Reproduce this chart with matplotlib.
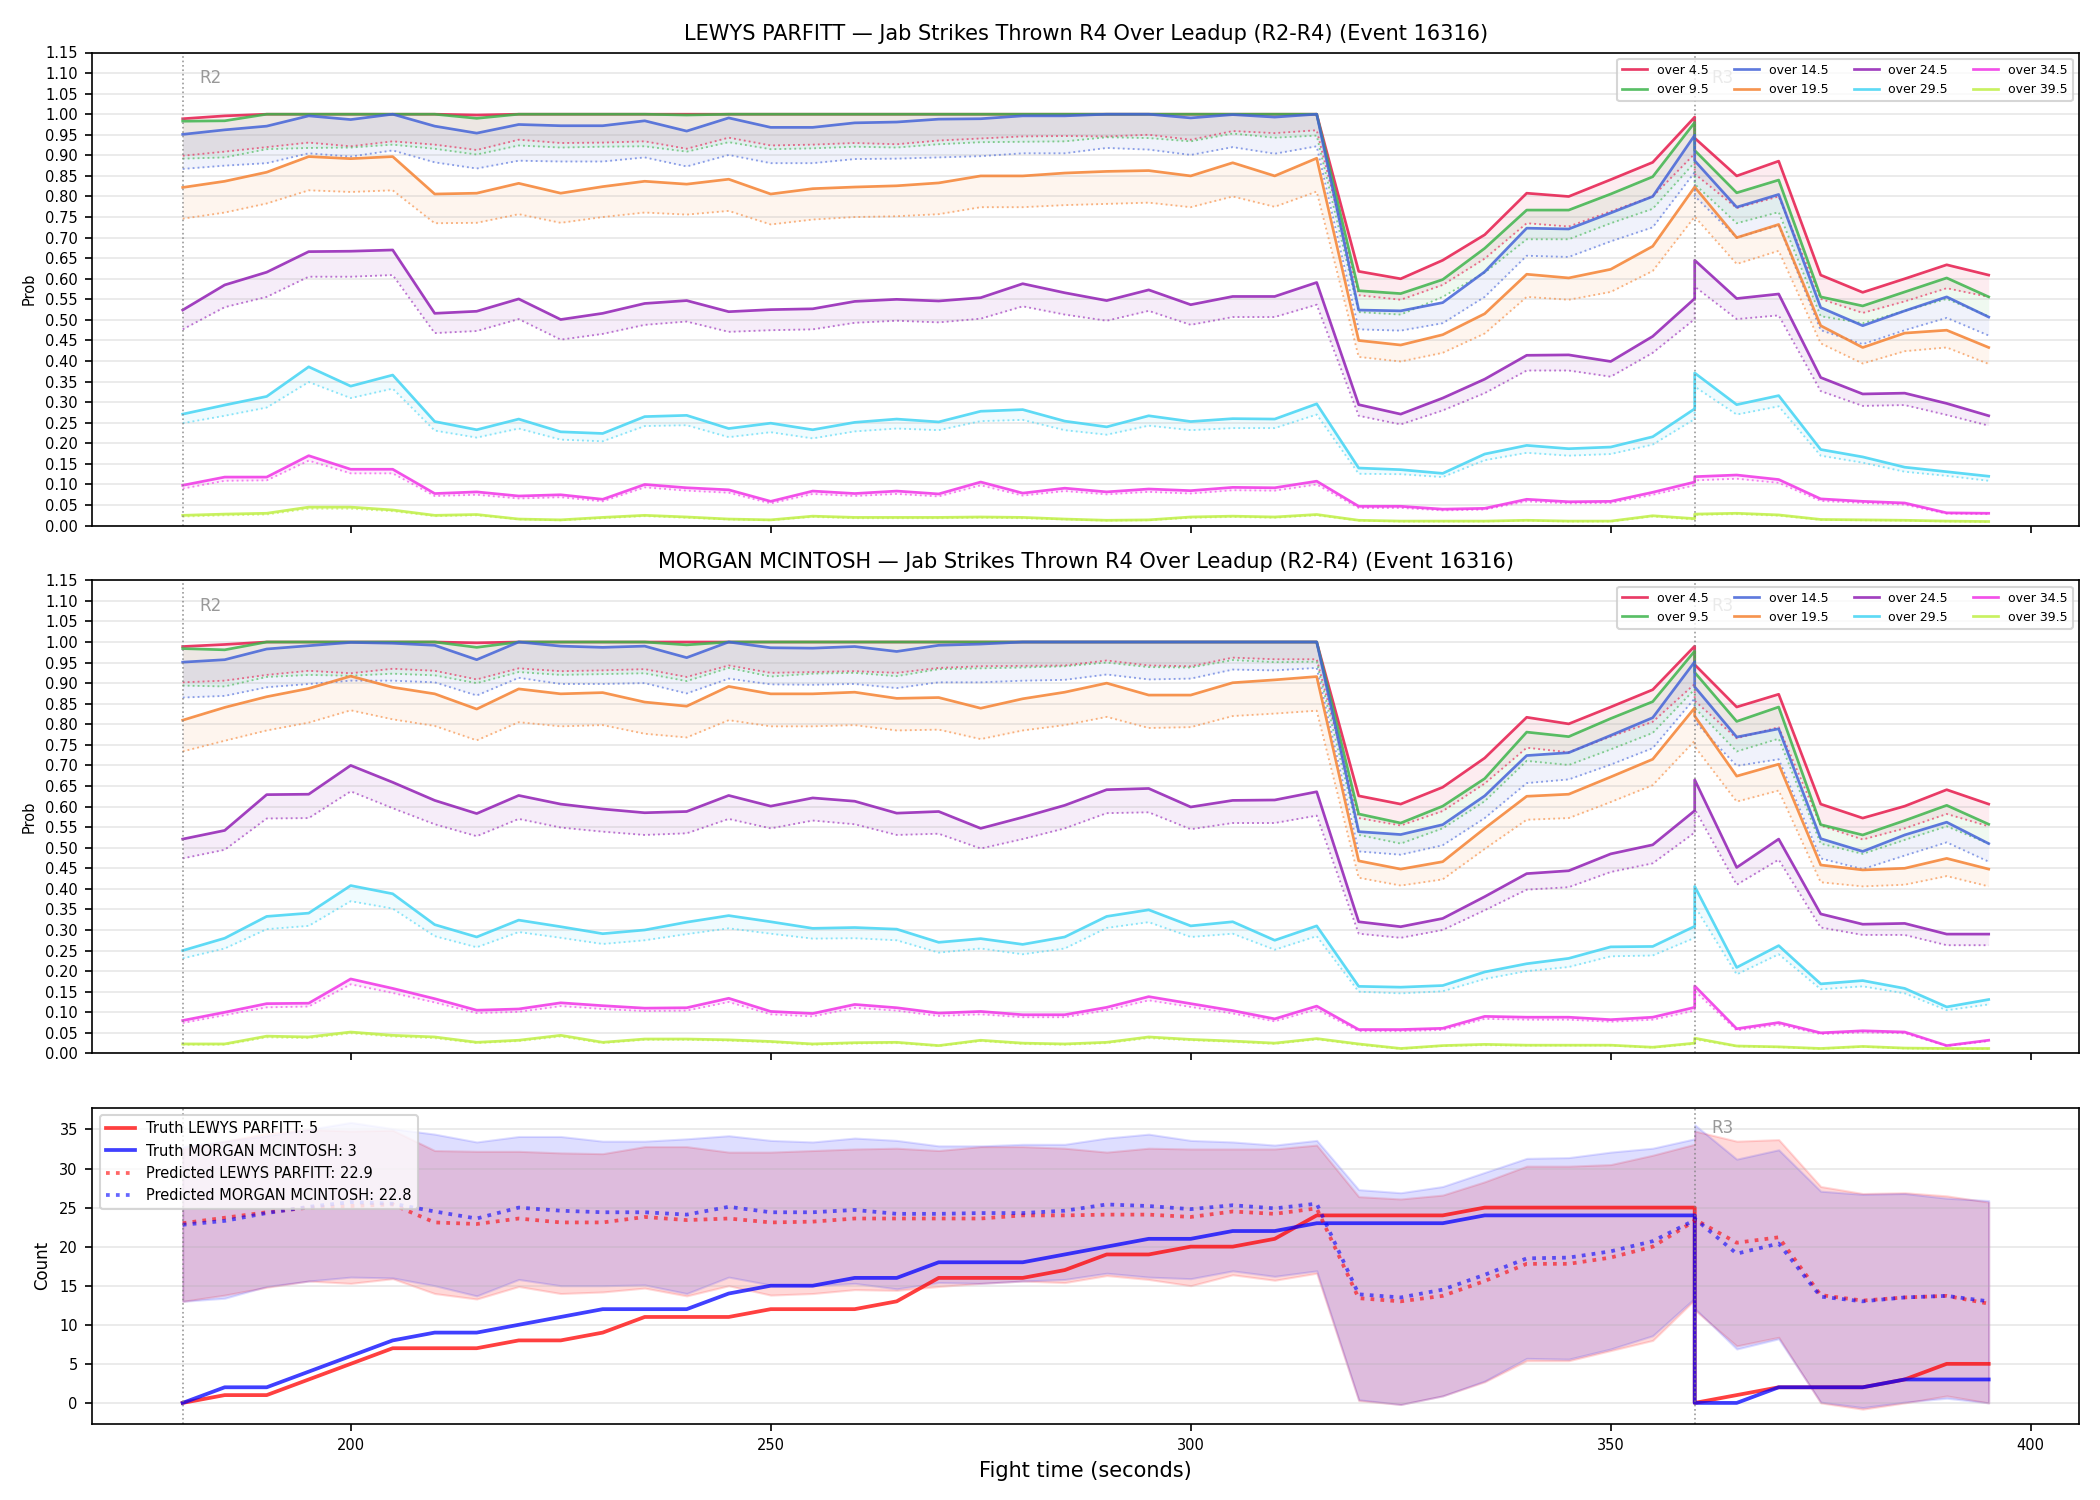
import numpy as np
import matplotlib
matplotlib.use('Agg')
import matplotlib.pyplot as plt

# time grid (360 appears twice: end of R2 leadup / start of R3)
times = [180, 185, 190, 195, 200, 205, 210, 215, 220, 225, 230, 235, 240, 245,
         250, 255, 260, 265, 270, 275, 280, 285, 290, 295, 300, 305, 310, 315,
         320, 325, 330, 335, 340, 345, 350, 355, 360,
         360, 365, 370, 375, 380, 385, 390, 395]

lines = ['over 4.5', 'over 9.5', 'over 14.5', 'over 19.5',
         'over 24.5', 'over 29.5', 'over 34.5', 'over 39.5']
colors = ['#e6194b', '#3cb44b', '#4363d8', '#f58231',
          '#911eb4', '#42d4f4', '#f032e6', '#bfef45']

# ---- LEWYS PARFITT: solid = prob, dotted = lower ----
lp_o4 = [.989, .996, 1, 1, 1, 1, 1, .998, 1, 1, 1, 1, 1, 1, 1, 1, 1, 1, 1, 1, 1, 1, 1, 1, 1, 1, 1, 1,
         .618, .600, .645, .707, .808, .800, .841, .883, .993,
         .942, .850, .886, .609, .567, .600, .634, .609]
lp_o4_lo = [.899, .909, .920, .931, .922, .934, .926, .913, .938, .930, .931, .934, .916, .943,
            .924, .926, .930, .927, .936, .941, .946, .947, .946, .950, .938, .959, .954, .961,
            .560, .549, .585, .649, .735, .727, .764, .800, .904,
            .855, .772, .800, .551, .517, .545, .577, .556]
lp_o9 = [.983, .984, 1, 1, 1, 1, 1, .99, 1, 1, 1, 1, .998, 1, 1, 1, 1, 1, 1, 1, 1, 1, 1, 1, 1, 1, 1, 1,
         .571, .564, .598, .674, .767, .767, .806, .848, .980,
         .912, .809, .840, .556, .534, .568, .602, .556]
lp_o9_lo = [.892, .895, .915, .918, .919, .926, .916, .902, .924, .919, .921, .922, .909, .932,
            .915, .917, .921, .919, .927, .932, .933, .934, .944, .942, .934, .953, .943, .948,
            .519, .513, .556, .615, .696, .696, .735, .770, .883,
            .830, .735, .762, .509, .492, .522, .551, .509]
lp_o14 = [.951, .962, .971, .996, .987, 1.0, .971, .954, .975, .972, .972, .984, .959, .991,
          .968, .968, .979, .981, .988, .989, .996, .996, 1.0, 1.0, .991, .999, .993, 1.0,
          .524, .522, .542, .617, .723, .721, .760, .800, .949,
          .887, .774, .805, .530, .486, .522, .556, .507]
lp_o14_lo = [.867, .875, .881, .905, .897, .912, .883, .868, .887, .885, .885, .895, .873, .901,
             .881, .881, .891, .892, .895, .898, .905, .905, .918, .914, .901, .920, .904, .922,
             .477, .474, .492, .556, .656, .653, .691, .725, .859,
             .801, .700, .730, .475, .441, .475, .505, .462]
lp_o19 = [.822, .837, .859, .897, .892, .897, .806, .808, .832, .808, .824, .837, .830, .842,
          .806, .819, .823, .826, .833, .850, .850, .857, .861, .863, .850, .882, .850, .893,
          .450, .439, .464, .515, .611, .602, .623, .679, .823,
          .823, .700, .732, .486, .433, .468, .475, .433]
lp_o19_lo = [.746, .761, .783, .815, .811, .815, .735, .736, .757, .736, .750, .761, .756, .765,
             .732, .744, .750, .752, .757, .774, .774, .779, .782, .785, .774, .800, .775, .812,
             .410, .399, .420, .467, .556, .549, .568, .619, .751,
             .751, .636, .668, .443, .394, .424, .433, .393]
lp_o24 = [.524, .585, .616, .666, .667, .670, .516, .521, .551, .501, .516, .540, .547, .520,
          .525, .527, .545, .550, .546, .554, .588, .566, .547, .573, .537, .557, .557, .591,
          .294, .271, .310, .356, .414, .415, .399, .460, .552,
          .645, .552, .563, .360, .320, .322, .297, .267]
lp_o24_lo = [.477, .531, .556, .605, .605, .609, .468, .473, .502, .452, .466, .488, .496, .471,
             .475, .477, .493, .498, .494, .503, .533, .513, .498, .522, .488, .507, .507, .537,
             .267, .246, .280, .322, .377, .377, .362, .420, .502,
             .581, .502, .511, .327, .291, .293, .269, .243]
lp_o29 = [.271, .293, .314, .386, .339, .366, .253, .233, .259, .228, .224, .265, .268, .236,
          .249, .233, .251, .259, .252, .278, .282, .254, .240, .267, .253, .260, .259, .296,
          .140, .136, .127, .174, .195, .187, .191, .216, .284,
          .371, .294, .316, .185, .167, .142, .131, .120]
lp_o29_lo = [.249, .267, .287, .349, .310, .333, .231, .214, .236, .209, .205, .242, .244, .215,
             .227, .212, .229, .236, .232, .254, .257, .232, .221, .243, .232, .237, .237, .270,
             .126, .125, .118, .159, .177, .170, .174, .197, .259,
             .338, .270, .290, .170, .153, .131, .121, .109]
lp_o34 = [.098, .118, .118, .170, .137, .137, .078, .082, .072, .075, .064, .100, .092, .087,
          .059, .084, .078, .084, .077, .106, .079, .091, .082, .089, .085, .093, .092, .108,
          .047, .047, .040, .042, .064, .058, .059, .081, .106,
          .119, .123, .112, .065, .059, .055, .031, .030]
lp_o34_lo = [.090, .109, .110, .158, .127, .127, .072, .075, .066, .069, .059, .093, .085, .080,
             .054, .077, .072, .077, .071, .098, .073, .084, .076, .082, .078, .086, .085, .100,
             .043, .043, .037, .039, .059, .054, .055, .075, .098,
             .110, .114, .104, .060, .055, .051, .029, .028]
lp_o39 = [.025, .028, .030, .045, .045, .038, .025, .027, .016, .014, .020, .025, .021, .016,
          .014, .023, .020, .020, .020, .021, .020, .016, .013, .014, .021, .023, .021, .027,
          .013, .011, .011, .011, .013, .011, .011, .024, .017,
          .028, .030, .026, .015, .014, .013, .011, .010]
lp_o39_lo = [.022, .025, .027, .041, .041, .035, .023, .025, .015, .013, .018, .023, .019, .015,
             .013, .021, .018, .018, .018, .019, .018, .015, .012, .013, .019, .021, .019, .025,
             .012, .010, .010, .010, .012, .010, .010, .022, .015,
             .026, .028, .024, .014, .013, .012, .010, .009]

# ---- MORGAN MCINTOSH ----
mm_o4 = [.989, .994, 1, 1, 1, 1, 1, .998, 1, 1, 1, 1, 1, 1, 1, 1, 1, 1, 1, 1, 1, 1, 1, 1, 1, 1, 1, 1,
         .626, .606, .647, .718, .817, .801, .842, .884, .990,
         .945, .842, .873, .606, .572, .601, .641, .606]
mm_o4_lo = [.902, .906, .920, .930, .924, .935, .930, .909, .936, .929, .931, .934, .915, .943,
            .925, .927, .929, .925, .937, .941, .942, .943, .955, .943, .941, .962, .958, .958,
            .572, .554, .589, .656, .743, .732, .770, .806, .898,
            .857, .766, .793, .554, .520, .547, .582, .552]
mm_o9 = [.984, .981, 1, 1, 1, 1, 1, .987, 1, 1, 1, 1, .993, 1, 1, 1, 1, 1, 1, 1, 1, 1, 1, 1, 1, 1, 1, 1,
         .582, .560, .601, .668, .781, .770, .814, .855, .978,
         .926, .807, .842, .556, .531, .566, .603, .557]
mm_o9_lo = [.894, .892, .915, .920, .918, .923, .919, .900, .927, .920, .922, .924, .905, .937,
            .916, .923, .925, .917, .934, .936, .938, .941, .950, .939, .938, .956, .951, .952,
            .531, .510, .547, .613, .711, .701, .739, .779, .885,
            .840, .734, .765, .510, .485, .519, .552, .510]
mm_o14 = [.951, .957, .983, .991, .999, .997, .992, .957, 1.0, .990, .987, .990, .962, 1.0,
          .986, .985, .989, .977, .992, .995, 1.0, 1.0, 1.0, 1.0, 1.0, 1.0, 1.0, 1.0,
          .539, .532, .556, .626, .724, .731, .773, .816, .952,
          .891, .769, .789, .522, .491, .531, .562, .510]
mm_o14_lo = [.865, .869, .890, .898, .906, .906, .902, .870, .913, .898, .898, .900, .875, .911,
             .897, .896, .898, .888, .902, .902, .906, .908, .921, .909, .911, .933, .931, .937,
             .491, .483, .506, .572, .657, .666, .702, .742, .863,
             .807, .699, .715, .474, .448, .481, .513, .466]
mm_o19 = [.810, .841, .867, .887, .917, .890, .874, .837, .886, .874, .877, .854, .844, .892,
          .874, .874, .878, .863, .865, .839, .862, .878, .900, .871, .871, .901, .908, .916,
          .468, .448, .466, .547, .625, .630, .672, .715, .840,
          .820, .674, .703, .458, .446, .450, .474, .448]
mm_o19_lo = [.734, .760, .785, .804, .834, .812, .796, .761, .805, .795, .798, .777, .768, .810,
             .795, .795, .798, .785, .787, .764, .785, .798, .818, .791, .793, .820, .826, .833,
             .427, .408, .423, .497, .568, .572, .611, .652, .760,
             .746, .612, .639, .416, .406, .410, .431, .406]
mm_o24 = [.521, .542, .629, .630, .700, .659, .615, .583, .627, .606, .594, .585, .588, .627,
          .601, .621, .613, .584, .588, .547, .574, .603, .641, .644, .599, .615, .616, .636,
          .320, .308, .328, .381, .437, .444, .485, .507, .590,
          .665, .452, .521, .339, .314, .316, .290, .290]
mm_o24_lo = [.474, .495, .571, .572, .637, .596, .557, .528, .570, .549, .539, .531, .535, .570,
             .547, .566, .557, .531, .534, .498, .521, .547, .584, .586, .545, .560, .560, .578,
             .291, .281, .300, .348, .398, .404, .441, .462, .537,
             .594, .410, .471, .306, .288, .288, .263, .263]
mm_o29 = [.250, .280, .333, .341, .408, .388, .313, .283, .324, .308, .291, .300, .319, .335,
          .320, .304, .306, .302, .270, .279, .265, .283, .333, .349, .310, .320, .275, .310,
          .163, .161, .165, .198, .218, .231, .259, .260, .309,
          .406, .209, .262, .169, .177, .158, .113, .131]
mm_o29_lo = [.231, .255, .302, .310, .370, .352, .285, .258, .295, .281, .266, .275, .290, .304,
             .291, .279, .280, .275, .245, .255, .241, .255, .305, .319, .283, .291, .252, .285,
             .150, .146, .151, .181, .200, .210, .236, .238, .281,
             .358, .192, .241, .156, .163, .146, .105, .119]
mm_o34 = [.080, .100, .121, .122, .181, .158, .133, .105, .108, .123, .116, .110, .111, .134,
          .102, .097, .119, .111, .098, .102, .094, .094, .112, .138, .121, .104, .084, .115,
          .058, .058, .061, .090, .088, .088, .082, .088, .112,
          .164, .060, .075, .050, .055, .052, .019, .032]
mm_o34_lo = [.074, .093, .112, .114, .168, .147, .124, .098, .101, .115, .108, .103, .104, .125,
             .095, .090, .111, .104, .091, .095, .088, .088, .105, .129, .113, .097, .078, .107,
             .054, .054, .057, .084, .082, .082, .077, .082, .104,
             .152, .056, .070, .047, .051, .049, .018, .030]
mm_o39 = [.023, .023, .042, .040, .052, .044, .040, .027, .032, .044, .027, .035, .035, .033,
          .029, .023, .026, .027, .019, .032, .025, .023, .027, .040, .034, .030, .025, .036,
          .023, .012, .019, .022, .020, .020, .020, .015, .025,
          .037, .018, .016, .012, .017, .013, .012, .012]
mm_o39_lo = [.021, .021, .039, .037, .049, .041, .037, .025, .030, .041, .025, .033, .033, .031,
             .027, .021, .024, .025, .018, .030, .023, .021, .025, .037, .032, .028, .023, .034,
             .021, .011, .018, .020, .019, .019, .019, .014, .023,
             .034, .017, .015, .011, .016, .012, .011, .011]

# ---- counts ----
truth_lp = [0, 1, 1, 3, 5, 7, 7, 7, 8, 8, 9, 11, 11, 11, 12, 12, 12, 13, 16, 16, 16, 17, 19, 19,
            20, 20, 21, 24, 24, 24, 24, 25, 25, 25, 25, 25, 25,
            0, 1, 2, 2, 2, 3, 5, 5]
truth_mm = [0, 2, 2, 4, 6, 8, 9, 9, 10, 11, 12, 12, 12, 14, 15, 15, 16, 16, 18, 18, 18, 19, 20, 21,
            21, 22, 22, 23, 23, 23, 23, 24, 24, 24, 24, 24, 24,
            0, 0, 2, 2, 2, 3, 3, 3]
pred_lp = [23.0, 23.7, 24.4, 25.0, 25.2, 25.4, 23.1, 22.9, 23.6, 23.1, 23.1, 23.8, 23.4, 23.6,
           23.1, 23.2, 23.6, 23.6, 23.6, 23.6, 24.0, 24.0, 24.1, 24.1, 23.8, 24.5, 24.2, 24.9,
           13.4, 13.0, 13.7, 15.6, 17.8, 17.8, 18.6, 20.0, 23.3,
           23.5, 20.5, 21.2, 13.8, 13.1, 13.5, 13.7, 12.7]
pred_mm = [22.8, 23.3, 24.3, 25.1, 25.7, 25.5, 24.5, 23.6, 25.0, 24.6, 24.4, 24.4, 24.1, 25.1,
           24.4, 24.4, 24.7, 24.2, 24.2, 24.3, 24.3, 24.6, 25.4, 25.2, 24.8, 25.3, 24.9, 25.5,
           13.9, 13.5, 14.5, 16.4, 18.5, 18.6, 19.4, 20.7, 23.4,
           23.6, 19.1, 20.4, 13.6, 13.0, 13.5, 13.7, 13.0]
band_lp_hi = [32.5, 33.5, 34.5, 35.0, 34.8, 34.9, 32.3, 32.2, 32.2, 32.0, 31.9, 32.8, 32.8, 32.1,
              32.1, 32.3, 32.5, 32.6, 32.3, 32.8, 32.8, 32.6, 32.1, 32.6, 32.5, 32.5, 32.5, 33.0,
              26.4, 26.1, 26.6, 28.3, 30.3, 30.3, 30.5, 31.7, 33.1,
              34.8, 33.5, 33.7, 27.7, 26.8, 26.9, 26.5, 25.7]
band_lp_lo = [13.0, 13.8, 14.8, 15.6, 15.3, 15.9, 14.0, 13.3, 14.9, 14.0, 14.2, 14.7, 13.7, 15.0,
              13.8, 14.0, 14.5, 14.4, 14.9, 15.3, 15.6, 15.4, 16.3, 15.8, 15.0, 16.4, 15.7, 16.6,
              0.3, -0.2, 0.9, 2.7, 5.4, 5.4, 6.7, 8.0, 13.2,
              11.9, 7.3, 8.4, 0.0, -0.8, 0.0, 0.9, 0.0]
band_mm_hi = [32.8, 33.5, 34.2, 35.0, 35.9, 35.1, 34.4, 33.4, 34.1, 34.1, 33.5, 33.5, 33.8, 34.2,
              33.6, 33.4, 33.9, 33.6, 32.9, 32.9, 33.1, 33.1, 33.9, 34.4, 33.6, 33.4, 33.0, 33.6,
              27.3, 26.9, 27.7, 29.5, 31.3, 31.4, 32.1, 32.6, 33.8,
              35.6, 31.2, 32.4, 27.1, 26.7, 26.8, 26.2, 25.9]
band_mm_lo = [13.0, 13.4, 14.9, 15.6, 16.1, 16.0, 15.0, 13.7, 15.8, 15.0, 15.0, 15.1, 14.0, 16.1,
              15.1, 15.0, 15.3, 14.6, 15.4, 15.3, 15.6, 15.8, 16.6, 16.1, 15.9, 16.9, 16.2, 16.9,
              0.4, -0.2, 0.9, 2.8, 5.7, 5.6, 6.9, 8.6, 13.4,
              12.1, 6.9, 8.2, 0.1, -0.6, 0.1, 0.6, 0.0]

round_marks = [(180, 'R2'), (360, 'R3')]

panels = [
    ('LEWYS PARFITT', [lp_o4, lp_o9, lp_o14, lp_o19, lp_o24, lp_o29, lp_o34, lp_o39],
     [lp_o4_lo, lp_o9_lo, lp_o14_lo, lp_o19_lo, lp_o24_lo, lp_o29_lo, lp_o34_lo, lp_o39_lo]),
    ('MORGAN MCINTOSH', [mm_o4, mm_o9, mm_o14, mm_o19, mm_o24, mm_o29, mm_o34, mm_o39],
     [mm_o4_lo, mm_o9_lo, mm_o14_lo, mm_o19_lo, mm_o24_lo, mm_o29_lo, mm_o34_lo, mm_o39_lo]),
]

x = np.array(times)

fig, axes = plt.subplots(3, 1, figsize=(14, 10), sharex=True,
                         gridspec_kw={'height_ratios': [3, 3, 2]})
fig.subplots_adjust(left=0.044, right=0.99, top=0.965, bottom=0.051, hspace=0.13)


def add_rounds(ax):
    for xr, lab in round_marks:
        ax.axvline(xr, color='gray', ls=':', lw=0.8, alpha=0.8)
        ax.text(xr + 2, 0.965, lab, transform=ax.get_xaxis_transform(),
                va='top', ha='left', fontsize=8, color='gray', alpha=0.8)


for ax, (name, solids, lows) in zip(axes[:2], panels):
    for lab, col, s, lo in zip(lines, colors, solids, lows):
        ax.plot(x, s, color=col, lw=1.3, alpha=0.85, label=lab)
        ax.plot(x, lo, color=col, lw=0.9, ls=':', alpha=0.6)
        ax.fill_between(x, lo, s, color=col, alpha=0.08, lw=0)
    add_rounds(ax)
    ax.set_ylim(0, 1.15)
    ax.set_yticks(np.arange(0, 1.151, 0.05))
    ax.set_ylabel('Prob', fontsize=7)
    ax.set_title('{} \u2014 Jab Strikes Thrown R4 Over Leadup (R2-R4) (Event 16316)'.format(name),
                 fontsize=10)
    ax.grid(axis='y', alpha=0.3)
    ax.tick_params(labelsize=7)
    ax.legend(loc='upper right', ncol=4, fontsize=6)

ax = axes[2]
ax.fill_between(x, band_lp_lo, band_lp_hi, color='red', alpha=0.15)
ax.fill_between(x, band_mm_lo, band_mm_hi, color='blue', alpha=0.13)
ax.plot(x, truth_lp, color='red', lw=1.8, alpha=0.75, label='Truth LEWYS PARFITT: 5')
ax.plot(x, truth_mm, color='blue', lw=1.8, alpha=0.75, label='Truth MORGAN MCINTOSH: 3')
ax.plot(x, pred_lp, color='red', lw=1.8, ls=':', alpha=0.6, label='Predicted LEWYS PARFITT: 22.9')
ax.plot(x, pred_mm, color='blue', lw=1.8, ls=':', alpha=0.6, label='Predicted MORGAN MCINTOSH: 22.8')
add_rounds(ax)
ax.set_ylabel('Count', fontsize=8)
ax.set_xlabel('Fight time (seconds)', fontsize=10)
ax.grid(axis='y', alpha=0.3)
ax.tick_params(labelsize=7)
ax.legend(loc='upper left', fontsize=7)

fig.savefig('out.png', dpi=150)
plt.close()
